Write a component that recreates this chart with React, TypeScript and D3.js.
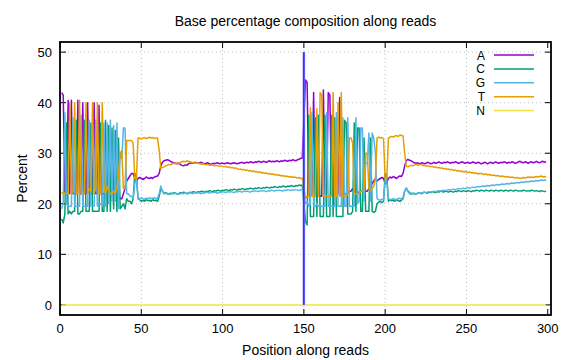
import React from 'react';
import * as d3 from 'd3';

const TITLE = 'Base percentage composition along reads';
const X_LABEL = 'Position along reads';
const Y_LABEL = 'Percent';
const X_TICKS = [0, 50, 100, 150, 200, 250, 300];
const Y_TICKS = [0, 10, 20, 30, 40, 50];
const BASES = ['A', 'C', 'G', 'T', 'N'];
const COLORS = ['#9400d3', '#009e73', '#56b4e9', '#e69f00', '#f0e442'];
const READ1_START = 1;
const READ2_START = 151;
const SEPARATOR_X = 150;
const SEPARATOR_TOP = 50;

const A_READ1 = [42,41.5,22,22,40.5,22,40.5,22,22,22,
40.5,22,22,40,22,22,40,22,22,22,
40,22,22,39.5,22,22,22,22,22,22,
23,22.5,23,23,22.5,22,21,21,22,23,
24.5,25,25.5,26,26,25,24.5,25,25.2,25,
24.8,25,25.3,25.1,25,25.2,25,25.3,25.4,25.5,
26,27.5,28.2,28.5,28.6,28.7,28.6,28.4,28.2,28.1,
28,27.9,28,27.8,27.6,27.5,27.7,27.6,27.9,28,
28.1,28,28.2,28.1,28,28.1,28.2,28,27.9,28,
28.1,27.9,27.8,28,27.9,28,28.1,27.9,28,28,
27.9,28,28.1,28,27.9,28,28.1,28,27.9,28,
28.1,28.2,28,28.1,28.2,28.1,28.3,28.2,28.1,28.3,
28.2,28.4,28.3,28.2,28.4,28.3,28.2,28.4,28.5,28.3,
28.4,28.3,28.5,28.4,28.3,28.5,28.4,28.6,28.5,28.4,
28.6,28.5,28.7,28.6,28.5,28.7,28.8,29,29];

const C_READ1 = [17,16.2,18,36,18,18.5,18,18.5,18.5,36.5,
18,18,18.5,18.5,36.5,18.5,18.5,18.5,36,18.5,
18.5,18.5,18.5,18.5,36,18.5,18.5,36.5,18.5,35.5,
18.5,35,19,34.5,18.5,33,19,19.5,20,19,
21,20.5,20.5,20,21,26,25.5,21,20.8,20.5,
20.7,20.5,20.8,20.6,20.7,20.5,20.8,20.6,20.7,20.5,
21.5,23,22.5,22,22.2,22,21.9,22.1,22,22.2,
22.1,21.9,22,22.2,22.1,22.3,22.2,22,22.1,22.3,
22.2,22.4,22.3,22.2,22.4,22.3,22.5,22.4,22.3,22.5,
22.4,22.6,22.5,22.4,22.6,22.5,22.7,22.6,22.5,22.7,
22.6,22.8,22.7,22.6,22.8,22.7,22.9,22.8,22.7,22.9,
22.8,23,22.9,22.8,23,22.9,23.1,23,22.9,23.1,
23,23.2,23.1,23,23.2,23.1,23.3,23.2,23.1,23.3,
23.2,23.4,23.3,23.2,23.4,23.3,23.5,23.4,23.3,23.5,
23.4,23.6,23.5,23.4,23.6,23.5,23.7,23.6,23.7];

const G_READ1 = [19,20,38,20,19.5,19.5,19.5,37,19.5,19.5,
19.5,19.5,37.5,19.5,19.5,19.5,19.5,36.5,19.5,19.5,
19.5,36.5,19.5,20,20,19.5,36,19.5,36,20,
36.5,20.5,35.5,20.5,36,19,30,29,35,35,
22,22,21.5,21.5,21,24,25,21,21,21.2,
21,20.9,21.1,21,21.2,21,21.1,21.2,21,21.1,
22,23.5,22.5,22.2,22,22.1,22,21.9,22.1,22,
22.1,22,21.9,22,22.1,22,22.2,22.1,22,22.2,
22.1,22,22.2,22.1,22.2,22.1,22,22.2,22.1,22.3,
22.2,22.1,22.3,22.2,22.3,22.2,22.1,22.3,22.2,22.4,
22.3,22.2,22.4,22.3,22.4,22.3,22.2,22.4,22.3,22.5,
22.4,22.3,22.5,22.4,22.5,22.4,22.3,22.5,22.4,22.6,
22.5,22.4,22.6,22.5,22.6,22.5,22.4,22.6,22.5,22.7,
22.6,22.5,22.7,22.6,22.7,22.6,22.5,22.7,22.6,22.8,
22.7,22.6,22.8,22.7,22.8,22.7,22.6,22.8,22.7];

const T_READ1 = [22,22.3,22,22,22,40,22,22.5,40,22,
22,40.5,22,22,22,40,22,23,22.5,40,
22,23,40,22,22,40,23.5,22,23.5,22.5,
22,22,22.5,22,23,26,30,30.5,23,23,
32.5,32.5,32.5,32.5,32,25,25,33,33,32.8,
33,33.1,32.9,33,33.2,33,33.1,32.9,33,33,
30.5,27,27.2,27.3,27.5,27.6,27.8,27.7,27.9,28,
27.9,28.1,28,28.2,28.3,28.4,28.3,28.5,28.4,28.3,
28.2,28.1,28,28.1,28,27.9,27.8,27.9,27.8,27.7,
27.8,27.6,27.7,27.6,27.5,27.6,27.5,27.4,27.5,27.4,
27.3,27.4,27.2,27.3,27.1,27.2,27,27.1,26.9,26.8,
26.9,26.7,26.8,26.6,26.7,26.5,26.6,26.4,26.5,26.3,
26.4,26.2,26.3,26.1,26.2,26,26.1,25.9,26,25.8,
25.9,25.7,25.8,25.6,25.7,25.5,25.6,25.4,25.5,25.4,
25.3,25.4,25.2,25.3,25.2,25.1,25.2,25,25.1];

const N_READ1 = [0,0,0,0,0,0,0,0,0,0,0,0,0,0,0,0,0,0,0,0,0,0,0,0,0,0,0,0,0,0,
0,0,0,0,0,0,0,0,0,0,0,0,0,0,0,0,0,0,0,0,0,0,0,0,0,0,0,0,0,0,
0,0,0,0,0,0,0,0,0,0,0,0,0,0,0,0,0,0,0,0,0,0,0,0,0,0,0,0,0,0,
0,0,0,0,0,0,0,0,0,0,0,0,0,0,0,0,0,0,0,0,0,0,0,0,0,0,0,0,0,0,
0,0,0,0,0,0,0,0,0,0,0,0,0,0,0,0,0,0,0,0,0,0,0,0,0,0,0,0,0];

const A_READ2 = [44.5,44,22,21.5,22,42,22,21.5,22,21.5,
21.5,42.5,22,22,42,41.5,22,21.5,22,22,
22,41,21.5,22,22,22,22,22.5,22.5,23,
22.5,22,22.5,22,22.5,22.5,23,22.5,22.5,23,
23.5,24,24.5,25,24.5,24.8,25,25.2,25,24,
24.2,25,25.3,25.1,25.4,25.2,25,25.3,25.5,25.4,
26,27.5,28.5,28.8,28.6,28.5,28.3,28.1,28,28.1,
27.9,28,28.1,27.9,28,28.2,28.1,27.9,28,28.2,
28,28.1,28.3,28.1,28,28.2,28.1,28.3,28.2,28,
28.2,28.1,28.3,28.2,28,28.1,28.3,28.2,28,28.1,
28.2,28,28.1,28.3,28.1,28,28.2,28.1,27.9,28,
28.2,28.1,27.9,28.1,28.2,28,28.1,28.3,28.1,28,
28.2,28.1,28.3,28.2,28,28.2,28.1,28.3,28.2,28,
28.1,28.3,28.4,28.2,28.1,28.3,28.2,28,28.2,28.3,
28.1,28.2,28.4,28.2,28.1,28.3,28.4,28.2,28.3];

const C_READ2 = [16.5,15.8,37.5,17.5,17.5,17.5,37,17.5,37.5,17.5,
17.5,17.5,37.5,17.5,17.5,17.5,37.5,17.5,37,17.5,
17.5,17.5,17.5,17.5,36.5,36,18,18,18,18.5,
36,18.5,35,35,18.5,18.5,33,18.5,18.5,18.5,
33,18.5,18.3,18.5,20,20.3,20.5,20.2,20.5,26,
25.5,20.5,20.8,20.6,20.7,20.5,20.8,20.6,20.5,20.7,
21,22.5,23,22.5,22.2,22,22.1,22,21.9,22.1,
22.2,22,22.1,22.3,22.2,22.1,22.3,22.2,22.4,22.3,
22.2,22.4,22.3,22.5,22.4,22.3,22.5,22.4,22.3,22.5,
22.4,22.3,22.5,22.4,22.6,22.5,22.4,22.6,22.5,22.4,
22.6,22.5,22.4,22.6,22.5,22.7,22.6,22.5,22.7,22.6,
22.5,22.7,22.6,22.5,22.7,22.6,22.5,22.7,22.6,22.5,
22.7,22.6,22.5,22.7,22.6,22.5,22.7,22.6,22.5,22.7,
22.6,22.5,22.6,22.5,22.7,22.6,22.5,22.6,22.5,22.7,
22.6,22.5,22.6,22.5,22.4,22.6,22.5,22.4,22.5];

const G_READ2 = [20,20.5,19.5,20,38,19.5,19.5,20,19.5,19.5,
19.5,19.5,19.5,38,19.5,19.5,19.5,19.5,19.5,38,
19.5,19.5,19.5,37,19.5,19.5,37,19.5,19.5,19.5,
19.5,37,20,20.5,35,35,20.5,28,28,34,
20.5,34,33,30,21,20.8,20.7,20.9,20.8,24.5,
24.5,21,20.8,20.9,21,20.8,20.9,21,21.1,20.9,
21.2,22.5,23.2,22.4,22,21.9,22,22.1,22,22.1,
22.2,22.1,22.2,22.3,22.2,22.3,22.4,22.3,22.4,22.5,
22.4,22.5,22.6,22.5,22.6,22.7,22.6,22.7,22.8,22.7,
22.8,22.9,22.8,22.9,23,22.9,23,23.1,23,23.1,
23.2,23.1,23.2,23.3,23.2,23.3,23.4,23.3,23.4,23.5,
23.4,23.5,23.6,23.5,23.6,23.7,23.6,23.7,23.8,23.7,
23.8,23.9,23.8,23.9,24,23.9,24,24.1,24,24.1,
24.2,24.1,24.2,24.3,24.2,24.3,24.4,24.3,24.4,24.5,
24.4,24.5,24.6,24.5,24.6,24.7,24.6,24.7,24.6];

const T_READ2 = [21,21.5,21.5,39,21.5,21.5,21.5,38.8,21.5,42,
41.5,21.5,21.5,21.5,21.5,21.5,21.5,42,21.5,21.5,
40,21.5,42,21.5,21.5,21.5,22,33,33,32,
22,22,22,22,22.5,22.5,23,30,30,23,
22.5,23,23.5,25,33,33.2,33,33.1,32.8,24.8,
25,33,33.2,33.3,33.2,33.4,33.5,33.3,33.6,33.5,
33.4,30,27.4,27.3,27.5,27.6,27.5,27.7,27.8,27.6,
27.7,27.8,27.6,27.5,27.6,27.4,27.5,27.3,27.4,27.2,
27.3,27.1,27.2,27,27.1,26.9,27,26.8,26.9,26.7,
26.8,26.6,26.7,26.5,26.6,26.4,26.5,26.3,26.4,26.3,
26.2,26.3,26.1,26.2,26,26.1,25.9,26,26,25.9,
25.8,25.9,25.7,25.8,25.7,25.6,25.7,25.5,25.6,25.5,
25.4,25.5,25.4,25.3,25.4,25.3,25.2,25.3,25.2,25.1,
25.2,25.1,25,25.1,25.2,25.1,25.2,25.3,25.2,25.3,
25.2,25.3,25.4,25.3,25.4,25.5,25.3,25.4,25.3];

const N_READ2 = [0,0,0,0,0,0,0,0,0,0,0,0,0,0,0,0,0,0,0,0,0,0,0,0,0,0,0,0,0,0,
0,0,0,0,0,0,0,0,0,0,0,0,0,0,0,0,0,0,0,0,0,0,0,0,0,0,0,0,0,0,
0,0,0,0,0,0,0,0,0,0,0,0,0,0,0,0,0,0,0,0,0,0,0,0,0,0,0,0,0,0,
0,0,0,0,0,0,0,0,0,0,0,0,0,0,0,0,0,0,0,0,0,0,0,0,0,0,0,0,0,0,
0,0,0,0,0,0,0,0,0,0,0,0,0,0,0,0,0,0,0,0,0,0,0,0,0,0,0,0,0];

const SERIES = [
  [A_READ1, A_READ2],
  [C_READ1, C_READ2],
  [G_READ1, G_READ2],
  [T_READ1, T_READ2],
  [N_READ1, N_READ2],
];

const W = 576;
const H = 360;
const PL = 60, PR = 551, PT = 42, PB = 315;
const FONT = '"Liberation Sans", Arial, Helvetica, sans-serif';
const FS_TICK = 13;
const FS_LABEL = 14;
const FS_LEGEND = 12;

export default function App() {
  const x = d3.scaleLinear().domain([0, 302]).range([PL, PR]);
  const y = d3.scaleLinear().domain([-2, 52]).range([PB, PT]);
  const line = d3.line<[number, number]>().x(d => x(d[0])).y(d => y(d[1]));

  const paths = SERIES.map(([r1, r2]) => {
    const pts: [number, number][] = [
      ...r1.map((v, i) => [READ1_START + i, v] as [number, number]),
      ...r2.map((v, i) => [READ2_START + i, v] as [number, number]),
    ];
    return line(pts) || '';
  });

  const tickLen = 6;
  const legendRight = 485;
  const legendX1 = 494, legendX2 = 534;
  const legendBase0 = 59.5, legendStep = 13.9;

  return (
    <div style={{ position: 'absolute', left: 0, top: 0 }}>
      <svg width={W} height={H} style={{ display: 'block', background: '#fff' }} fontFamily={FONT}>
        <rect x={0} y={0} width={W} height={H} fill="#fff" />
        <defs>
          <clipPath id="plotclip">
            <rect x={PL} y={PT} width={PR - PL} height={PB - PT} />
          </clipPath>
        </defs>
        {X_TICKS.filter(t => t > 0 && t < 300).map(t => (
          <line key={'gx' + t} x1={x(t)} x2={x(t)} y1={PT} y2={PB} stroke="#bdbdbd" strokeWidth={1} strokeDasharray="1,3" />
        ))}
        {Y_TICKS.filter(t => t > 0).map(t => (
          <line key={'gy' + t} x1={PL} x2={PR} y1={y(t)} y2={y(t)} stroke="#bdbdbd" strokeWidth={1} strokeDasharray="1,3" />
        ))}
        {X_TICKS.map(t => (
          <g key={'tx' + t}>
            <line x1={x(t)} x2={x(t)} y1={PB} y2={PB - tickLen} stroke="#000" strokeWidth={1} />
            <line x1={x(t)} x2={x(t)} y1={PT} y2={PT + tickLen} stroke="#000" strokeWidth={1} />
            <text x={x(t)} y={333} textAnchor="middle" fontSize={FS_TICK} fill="#000">{t}</text>
          </g>
        ))}
        {Y_TICKS.map(t => (
          <g key={'ty' + t}>
            <line x1={PL} x2={PL + tickLen} y1={y(t)} y2={y(t)} stroke="#000" strokeWidth={1} />
            <line x1={PR} x2={PR - tickLen} y1={y(t)} y2={y(t)} stroke="#000" strokeWidth={1} />
            <text x={52} y={y(t) + 5} textAnchor="end" fontSize={FS_TICK} fill="#000">{t}</text>
          </g>
        ))}
        <g clipPath="url(#plotclip)">
          {paths.map((d, i) => (
            <path key={BASES[i]} d={d} fill="none" stroke={COLORS[i]} strokeWidth={1.5} strokeLinejoin="round" />
          ))}
          <line x1={x(SEPARATOR_X)} x2={x(SEPARATOR_X)} y1={y(0)} y2={y(SEPARATOR_TOP)} stroke="#8c8cff" strokeWidth={2.6} />
          <line x1={x(SEPARATOR_X)} x2={x(SEPARATOR_X)} y1={y(0)} y2={y(SEPARATOR_TOP)} stroke="#0000ff" strokeWidth={1} />
        </g>
        <rect x={PL} y={PT} width={PR - PL} height={PB - PT} fill="none" stroke="#000" strokeWidth={1.8} />
        {BASES.map((b, i) => (
          <g key={'lg' + b}>
            <text x={legendRight} y={legendBase0 + i * legendStep} textAnchor="end" fontSize={FS_LEGEND} fill="#000">{b}</text>
            <line x1={legendX1} x2={legendX2} y1={legendBase0 + i * legendStep - 4.5} y2={legendBase0 + i * legendStep - 4.5} stroke={COLORS[i]} strokeWidth={1.5} />
          </g>
        ))}
        <text x={(PL + PR) / 2} y={26} textAnchor="middle" fontSize={FS_LABEL} fill="#000">{TITLE}</text>
        <text x={(PL + PR) / 2} y={355} textAnchor="middle" fontSize={FS_LABEL} fill="#000">{X_LABEL}</text>
        <text transform={`translate(27,${(PT + PB) / 2}) rotate(-90)`} textAnchor="middle" fontSize={FS_LABEL} fill="#000">{Y_LABEL}</text>
      </svg>
    </div>
  );
}
